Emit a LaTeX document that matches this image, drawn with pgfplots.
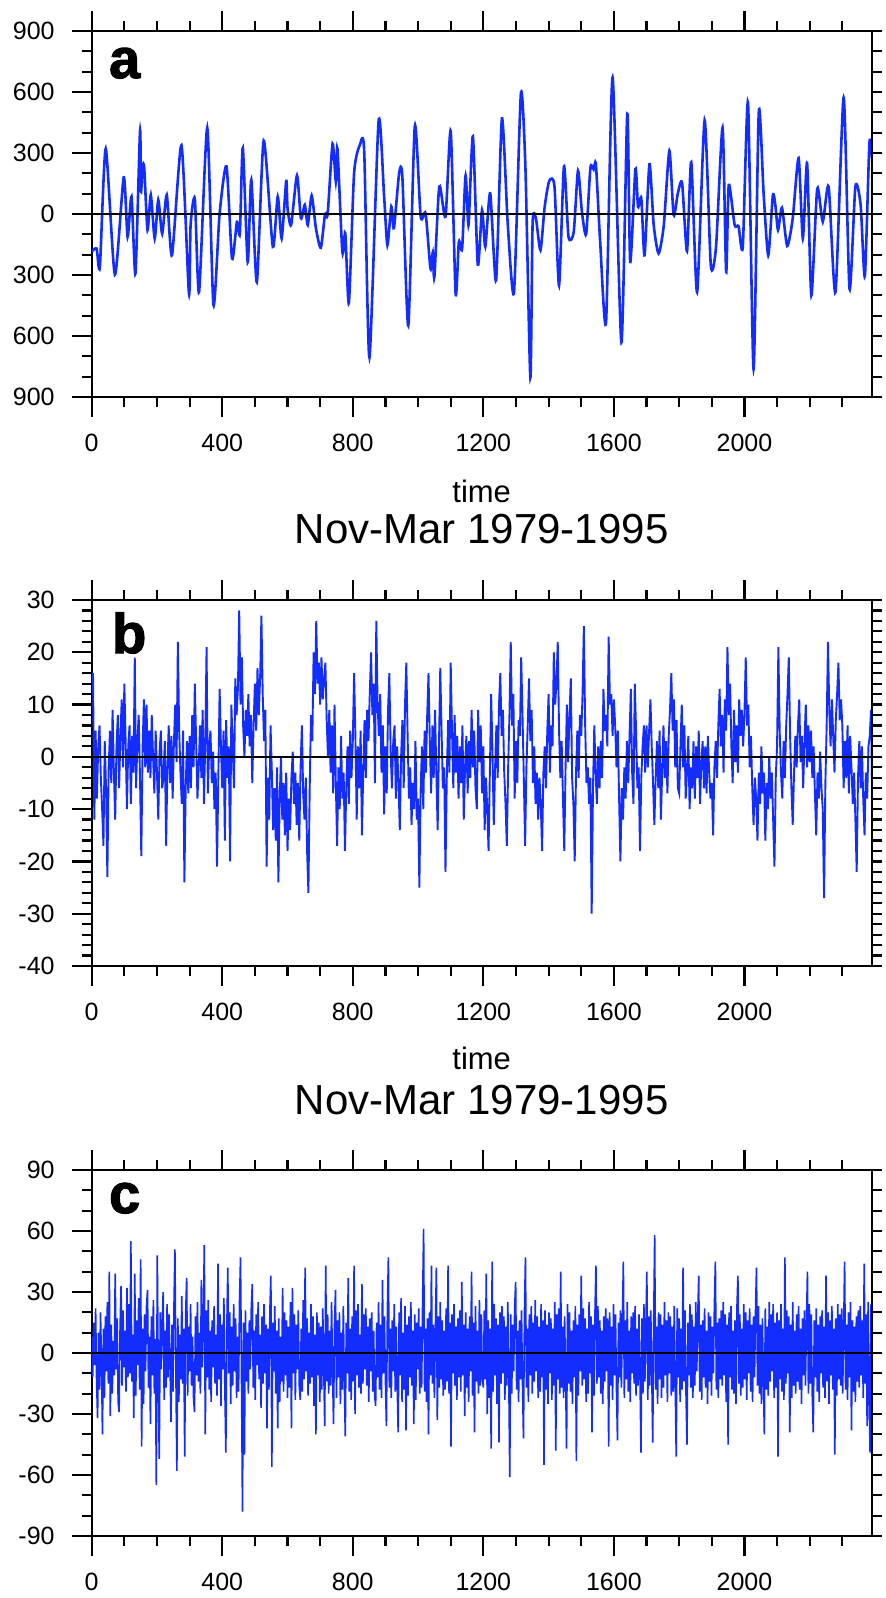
\documentclass[border=0pt]{standalone}
\usepackage{fontspec}
\setmainfont{Liberation Sans}
\newfontfamily\heavyfont[FakeBold=2]{Liberation Sans Bold}
\usepackage{pgfplots}
\pgfplotsset{compat=1.18}
\definecolor{lineblue}{RGB}{20,45,255}
\pgfplotsset{
 panel/.style={
  scale only axis, width=390pt, height=183pt,
  xmin=0, xmax=2390,
  xtick={0,400,...,2000}, xticklabels={0,400,800,1200,1600,2000},
  minor xtick={100,200,...,2300},
  tick align=outside,
  major tick length=10pt, minor tick length=5pt,
  ytick pos=left, xtick pos=both,
  axis line style={line width=1.2pt},
  tick style={black,line width=1.1pt},
  ticklabel style={font=\fontsize{12.5}{14}\selectfont},
  xticklabel style={yshift=-5pt},
  yticklabel style={xshift=-5pt},
 },
 rightticks/.style={
  scale only axis, width=390pt, height=183pt, xmin=0, xmax=2390,
  hide x axis, axis y line*=right, yticklabels={},
  tick align=outside, major tick length=5pt, minor tick length=5pt,
  tick style={black,line width=1.1pt}, axis line style={line width=1.2pt},
 },
}
\begin{document}
\begin{tikzpicture}
\useasboundingbox (0,0) rectangle (443pt,-799pt);
% ---------------- panel a
\begin{axis}[panel, name=pa, at={(45.85pt,-15.5pt)}, anchor=north west,
  ymin=-900, ymax=900, ytick={-900,-600,...,900},
  yticklabels={900,600,300,0,300,600,900}, minor ytick={-800,-700,...,800}]
\addplot[lineblue, line width=1.3pt, smooth, tension=0.4] coordinates {
(0,-186)(15,-170)(25,-260)(43,321)(71,-298)(98,180)(110,-112)(122,86)(134,-293)(148,407)(151,110)(156,234)(161,225)(171,-79)(181,94)(193,-120)(204,69)(216,-96)(230,94)(246,-203)(275,338)(298,-392)(303,-54)(316,74)(329,-384)(354,424)(373,-447)(392,3)(413,234)(430,-219)(445,-38)(454,-96)(463,325)(478,-236)(489,168)(506,-335)(527,361)(555,-161)(570,86)(582,-120)(596,163)(600,30)(611,-54)(629,190)(641,-21)(653,45)(662,-54)(674,91)(687,-70)(702,-166)(715,0)(723,0)(738,345)(748,160)(753,321)(768,-186)(777,-95)(788,-437)(804,201)(822,341)(835,308)(851,-705)(879,457)(896,86)(906,-153)(918,36)(926,-70)(942,201)(952,180)(970,-549)(990,432)(1008,-13)(1023,3)(1038,-269)(1045,-190)(1050,-310)(1065,135)(1084,-13)(1100,407)(1115,-392)(1125,-137)(1135,-170)(1145,185)(1150,80)(1155,-50)(1168,382)(1183,-249)(1196,20)(1206,-161)(1221,102)(1239,-326)(1257,470)(1275,-54)(1294,-384)(1315,592)(1329,226)(1344,-804)(1351,-46)(1361,-21)(1375,-178)(1388,36)(1402,163)(1418,135)(1432,-351)(1447,234)(1461,-112)(1477,-87)(1490,213)(1502,12)(1515,-100)(1528,226)(1538,220)(1545,242)(1558,-137)(1576,-532)(1596,671)(1623,-631)(1641,493)(1650,-236)(1666,222)(1674,36)(1684,77)(1694,-203)(1709,245)(1722,-54)(1737,-194)(1753,-54)(1770,311)(1783,-5)(1796,102)(1809,152)(1824,-183)(1837,255)(1855,-384)(1878,460)(1897,-252)(1913,-161)(1933,424)(1944,-285)(1952,143)(1970,-54)(1982,-60)(1995,-161)(2011,547)(2028,-763)(2044,503)(2059,94)(2073,-203)(2087,91)(2095,40)(2103,-79)(2115,31)(2131,-157)(2148,-21)(2166,275)(2179,-120)(2192,250)(2205,-400)(2223,124)(2240,-38)(2258,135)(2279,-384)(2304,572)(2322,-368)(2340,135)(2356,45)(2369,-305)(2383,349)(2391,275)
};
\addplot[black, line width=1pt] coordinates {(0,0) (2390,0)};
\end{axis}
\begin{axis}[rightticks, at={(45.85pt,-15.5pt)}, anchor=north west,
  ymin=-900, ymax=900, ytick={-900,-600,...,900}, minor ytick={-800,-700,...,800}]
\end{axis}
\node[font=\heavyfont\fontsize{28}{30}\selectfont, anchor=base west, inner sep=0pt] at ([xshift=8.5pt,yshift=-23.5pt]pa.north west) {a};
\node[font=\fontsize{15.5}{18}\selectfont, anchor=base, inner sep=0pt] at ([yshift=-52.5pt]pa.south) {time};
% ---------------- panel b
\begin{axis}[panel, name=pb, at={(45.85pt,-300pt)}, anchor=north west,
  ymin=-40, ymax=30, ytick={-40,-30,...,30},
  yticklabels={-40,-30,-20,-10,0,10,20,30}, minor ytick={-38,-36,...,28}]
\addplot[lineblue, line width=0.95pt] table[row sep=\\, header=false, x expr=\coordindex*4, y index=0] {
14\\16\\-12\\5\\-8\\2\\6\\-4\\-10\\-17\\3\\-6\\-23\\-2\\5\\-5\\9\\-3\\-12\\2\\8\\-6\\4\\11\\-2\\
14\\3\\-10\\2\\6\\-9\\4\\-3\\19\\-6\\3\\8\\-4\\-19\\2\\11\\-2\\10\\-3\\5\\-4\\8\\0\\-7\\5\\
-3\\-12\\1\\5\\-6\\-4\\3\\-17\\-2\\6\\-5\\4\\-8\\3\\10\\-1\\22\\5\\-3\\-9\\5\\-24\\-6\\3\\-7\\
4\\-6\\8\\-2\\14\\3\\-8\\-2\\6\\-4\\9\\-9\\3\\21\\-7\\2\\5\\-5\\1\\-10\\-3\\-21\\-4\\13\\2\\
-6\\5\\-16\\7\\-4\\2\\-20\\10\\2\\-6\\15\\8\\13\\28\\10\\19\\6\\0\\9\\4\\12\\2\\8\\-5\\6\\
14\\5\\17\\8\\15\\27\\12\\3\\9\\-21\\-4\\-12\\6\\-3\\-14\\-6\\-16\\-2\\-24\\-8\\0\\-12\\-5\\-15\\-3\\
-18\\-8\\-14\\-4\\1\\-9\\-3\\-13\\-5\\-16\\-2\\6\\-7\\-12\\-4\\-18\\-26\\-6\\8\\3\\20\\12\\26\\14\\18\\
10\\19\\11\\15\\18\\7\\0\\9\\-3\\6\\-7\\10\\-5\\-17\\-2\\-10\\4\\-8\\-3\\-18\\-6\\2\\-9\\5\\-4\\
3\\16\\4\\-12\\2\\-6\\5\\-15\\-3\\7\\-4\\9\\3\\12\\20\\8\\14\\-5\\26\\10\\4\\12\\-3\\6\\-11\\
2\\-7\\9\\16\\1\\-6\\3\\6\\-8\\2\\-5\\-14\\0\\7\\-6\\10\\18\\4\\-8\\-2\\-13\\-5\\-10\\3\\-12\\
-8\\-25\\-6\\2\\-10\\5\\-3\\8\\16\\3\\-7\\6\\-4\\9\\-3\\-14\\2\\17\\5\\-6\\-2\\-22\\-4\\7\\-3\\
18\\5\\-6\\8\\-3\\4\\-8\\2\\-5\\6\\-12\\-2\\4\\-7\\3\\-4\\9\\-2\\5\\-6\\-10\\9\\-1\\6\\-7\\
2\\-14\\-4\\-10\\-18\\-3\\12\\1\\-13\\-2\\6\\-4\\10\\16\\4\\9\\-3\\-9\\-17\\-2\\8\\22\\6\\12\\-8\\
3\\-5\\7\\4\\19\\8\\-4\\-17\\-2\\6\\15\\3\\9\\-5\\2\\-9\\-3\\-12\\-4\\-9\\-18\\-3\\2\\-6\\5\\
12\\-3\\6\\2\\20\\10\\14\\22\\5\\-4\\3\\-8\\-18\\-2\\10\\-1\\8\\15\\-4\\-9\\-20\\-3\\5\\-4\\8\\
4\\12\\25\\6\\-5\\-2\\-9\\-4\\-30\\-6\\6\\-3\\-9\\2\\-6\\3\\-4\\13\\5\\8\\2\\23\\10\\12\\4\\
11\\6\\-2\\5\\-8\\-20\\-6\\-12\\-2\\-8\\3\\-5\\4\\13\\-3\\-9\\14\\5\\-6\\-2\\-18\\-4\\2\\6\\-3\\
6\\-2\\5\\11\\2\\-5\\-13\\-4\\3\\-6\\5\\-12\\-3\\6\\-4\\3\\-7\\4\\9\\16\\5\\11\\-2\\7\\-6\\
-7\\2\\10\\-2\\6\\-8\\-3\\4\\-10\\-2\\-6\\3\\-8\\2\\-4\\5\\-9\\-1\\3\\-6\\2\\-7\\4\\-3\\-8\\
-5\\-15\\-2\\3\\-4\\6\\13\\2\\8\\-3\\11\\5\\21\\8\\14\\2\\-5\\9\\-1\\6\\-3\\11\\4\\9\\2\\
8\\19\\6\\10\\-2\\4\\-6\\-13\\-4\\-8\\-16\\-3\\-9\\2\\-7\\-3\\-16\\-5\\-10\\0\\-8\\-3\\-12\\-21\\-4\\
2\\21\\5\\-3\\-8\\3\\-4\\6\\12\\19\\4\\-6\\-13\\-3\\4\\-2\\6\\11\\-1\\4\\-6\\3\\10\\-2\\6\\
-1\\5\\-4\\2\\-7\\-15\\-3\\-8\\1\\-6\\-10\\-27\\-5\\6\\22\\9\\2\\11\\4\\-3\\7\\12\\18\\7\\11\\
6\\-6\\3\\-4\\6\\-7\\4\\-2\\-9\\-3\\-12\\-22\\-4\\3\\-6\\2\\-8\\-15\\-3\\-8\\2\\4\\9\\-10\\
};
\addplot[black, line width=1pt] coordinates {(0,0) (2390,0)};
\end{axis}
\begin{axis}[rightticks, at={(45.85pt,-300pt)}, anchor=north west,
  ymin=-40, ymax=30, ytick={-40,-30,...,30}, minor ytick={-38,-36,...,28}]
\end{axis}
\node[font=\fontsize{21}{25}\selectfont, anchor=base, inner sep=0pt] at ([yshift=28pt]pb.north) {Nov-Mar 1979-1995};
\node[font=\heavyfont\fontsize{28}{30}\selectfont, anchor=base west, inner sep=0pt] at ([xshift=10pt,yshift=-26.5pt]pb.north west) {b};
\node[font=\fontsize{15.5}{18}\selectfont, anchor=base, inner sep=0pt] at ([yshift=-52pt]pb.south) {time};
% ---------------- panel c
\begin{axis}[panel, name=pc, at={(45.85pt,-585pt)}, anchor=north west,
  ymin=-90, ymax=90, ytick={-90,-60,...,90},
  yticklabels={-90,-60,-30,0,30,60,90}, minor ytick={-80,-70,...,80}]
\addplot[lineblue, line width=0.8pt] table[row sep=\\, header=false, x expr=\coordindex*3, y index=0] {
8\\-12\\15\\-6\\22\\-14\\-32\\10\\-18\\20\\-5\\-40\\12\\-22\\18\\-9\\25\\-15\\40\\-31\\
14\\-20\\6\\-11\\39\\-8\\17\\-24\\-29\\13\\33\\-16\\21\\-7\\11\\-19\\32\\-12\\24\\-10\\
55\\-14\\9\\-32\\39\\-21\\16\\-6\\27\\-18\\46\\-46\\12\\-25\\19\\-9\\23\\31\\-17\\8\\
-35\\18\\-11\\26\\-20\\7\\-65\\48\\-14\\-52\\20\\-8\\15\\30\\-23\\11\\-17\\24\\-12\\19\\
-6\\-34\\14\\-19\\22\\51\\-10\\-58\\17\\-24\\9\\-13\\28\\-15\\12\\-51\\20\\37\\-21\\13\\
-9\\24\\-16\\8\\-22\\-29\\18\\-11\\25\\-14\\10\\-20\\36\\-7\\15\\53\\-40\\21\\-12\\26\\
-18\\11\\-24\\16\\-7\\23\\-15\\9\\-21\\44\\-13\\19\\-26\\14\\-8\\27\\-17\\-49\\12\\42\\
-10\\20\\-25\\13\\-16\\24\\-9\\17\\-22\\8\\-19\\26\\47\\-12\\-78\\15\\-50\\21\\-14\\10\\
-20\\16\\-8\\22\\34\\-17\\11\\-23\\19\\-6\\25\\-13\\9\\-27\\18\\-15\\24\\-10\\14\\-37\\
12\\-18\\21\\38\\-56\\15\\-9\\23\\-20\\11\\-37\\17\\-24\\8\\-14\\32\\-19\\20\\-11\\16\\
-22\\13\\-17\\25\\-37\\32\\-10\\19\\-23\\14\\-8\\21\\-16\\-23\\12\\-19\\26\\-13\\42\\-9\\
17\\-21\\10\\-15\\24\\-12\\18\\-26\\9\\-40\\20\\-11\\15\\-24\\13\\-18\\22\\-7\\-36\\43\\
-14\\19\\-20\\11\\-16\\25\\-9\\-35\\14\\31\\-22\\16\\-12\\20\\-25\\10\\-18\\23\\-13\\-41\\
15\\-10\\37\\-19\\12\\-23\\18\\-14\\43\\-30\\21\\-11\\24\\-17\\9\\-20\\34\\-15\\19\\-8\\
22\\-16\\13\\-24\\17\\-9\\20\\-19\\11\\-21\\-26\\15\\-12\\25\\-18\\14\\-22\\36\\-10\\18\\
-13\\-36\\21\\47\\-17\\12\\-22\\16\\-9\\24\\-19\\13\\-15\\-39\\20\\-11\\27\\-24\\10\\-18\\
23\\-38\\14\\-21\\18\\-12\\25\\-16\\11\\-35\\19\\-23\\15\\-8\\22\\-20\\13\\-17\\26\\61\\
-19\\12\\-24\\17\\-40\\20\\-11\\43\\-15\\14\\-22\\9\\42\\-33\\18\\-17\\25\\-13\\16\\-21\\
11\\-18\\22\\-14\\43\\-20\\15\\-46\\19\\-10\\24\\-16\\13\\-23\\17\\-12\\21\\-19\\35\\-11\\
14\\-31\\20\\-17\\12\\-24\\18\\-9\\40\\-21\\15\\-39\\23\\-14\\11\\-20\\26\\-16\\19\\-12\\
-17\\21\\-13\\39\\-30\\16\\-22\\12\\-47\\45\\-19\\24\\-11\\17\\-25\\14\\-44\\20\\-15\\23\\
-10\\18\\-23\\13\\-16\\25\\-12\\-61\\19\\-20\\14\\-9\\22\\35\\-18\\11\\-24\\16\\-13\\21\\
-15\\-42\\20\\47\\-17\\12\\-24\\19\\-11\\23\\-20\\15\\-14\\26\\-9\\18\\-22\\13\\-19\\24\\
-12\\16\\-55\\21\\-18\\14\\-25\\20\\-10\\17\\-23\\12\\-16\\25\\-48\\19\\-13\\22\\-20\\40\\
-17\\13\\-22\\18\\-11\\-47\\24\\-15\\20\\-19\\11\\-25\\16\\-12\\23\\-53\\14\\-21\\19\\-9\\
38\\-16\\22\\-13\\17\\-24\\12\\-20\\25\\-10\\18\\-39\\14\\-21\\19\\43\\-15\\23\\-12\\16\\
-20\\11\\-25\\18\\-14\\22\\-9\\17\\-46\\20\\-16\\13\\-23\\24\\-11\\19\\-18\\-43\\15\\-12\\
21\\-17\\14\\45\\-22\\16\\-13\\25\\-19\\11\\-24\\18\\-10\\20\\-15\\23\\-21\\12\\-16\\19\\
-11\\-49\\17\\-20\\24\\-14\\12\\40\\-23\\18\\-16\\21\\-9\\-44\\15\\58\\-18\\13\\-25\\20\\
-13\\19\\-22\\14\\-17\\25\\-11\\16\\-24\\20\\-10\\18\\-21\\13\\-19\\23\\-15\\-51\\22\\-12\\
17\\-24\\12\\-18\\42\\-14\\21\\-20\\-45\\15\\-11\\24\\-17\\19\\-22\\13\\-16\\25\\-9\\18\\
38\\-19\\14\\-23\\16\\-12\\22\\-17\\11\\-25\\20\\-14\\18\\-21\\13\\-10\\24\\45\\-18\\15\\
-22\\17\\-13\\21\\-16\\25\\-11\\19\\-24\\14\\-45\\20\\-12\\23\\-18\\11\\-20\\16\\-25\\22\\
38\\-15\\19\\-21\\12\\-17\\24\\-13\\20\\-23\\16\\-10\\22\\-19\\14\\-24\\18\\-12\\21\\42\\
-16\\23\\-20\\14\\-25\\17\\-11\\-40\\22\\-18\\13\\-21\\25\\-14\\19\\-9\\24\\-22\\15\\-17\\
20\\-51\\16\\-13\\24\\-19\\12\\-23\\47\\-15\\21\\-10\\18\\-39\\14\\-22\\25\\-16\\11\\-20\\
19\\-14\\23\\-18\\12\\-25\\17\\-11\\21\\-16\\13\\40\\-20\\24\\-15\\19\\-22\\-39\\16\\-12\\
22\\-19\\14\\-24\\18\\-10\\21\\-17\\13\\-22\\38\\-14\\20\\-25\\16\\-11\\23\\-18\\12\\-50\\
17\\-21\\24\\-13\\19\\-16\\22\\-20\\11\\45\\-18\\14\\-23\\20\\-12\\25\\-38\\16\\-19\\13\\
-24\\18\\-14\\21\\-17\\23\\-11\\16\\-22\\44\\-15\\19\\-36\\25\\-20\\-49\\24\\-18\\30\\-12\\
};
\addplot[black, line width=1pt] coordinates {(0,0) (2390,0)};
\end{axis}
\begin{axis}[rightticks, at={(45.85pt,-585pt)}, anchor=north west,
  ymin=-90, ymax=90, ytick={-90,-60,...,90}, minor ytick={-80,-70,...,80}]
\end{axis}
\node[font=\fontsize{21}{25}\selectfont, anchor=base, inner sep=0pt] at ([yshift=28pt]pc.north) {Nov-Mar 1979-1995};
\node[font=\heavyfont\fontsize{28}{30}\selectfont, anchor=base west, inner sep=0pt] at ([xshift=8.5pt,yshift=-21.5pt]pc.north west) {c};
\end{tikzpicture}
\end{document}
